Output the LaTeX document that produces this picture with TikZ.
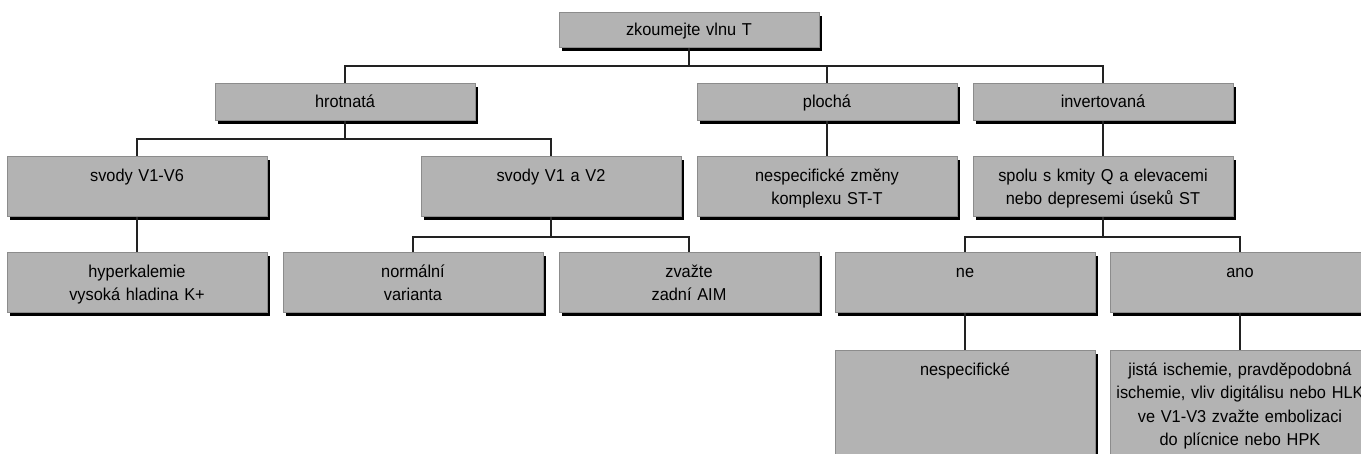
\documentclass[tikz,border=0pt]{standalone}
\usepackage{fontspec}
\usetikzlibrary{shadows}
\newfontfamily\boxfont{Liberation Sans}[FakeStretch=0.95]
\definecolor{boxfill}{RGB}{179,179,179}
\definecolor{boxline}{RGB}{140,140,140}
\definecolor{wire}{RGB}{34,34,34}
\tikzset{
  box/.style={draw=boxline, fill=boxfill, line width=0.8pt, inner sep=0pt,
    text width=260pt, align=center, anchor=north,
    font={\boxfont\fontsize{17.2}{23.5}\selectfont},
    drop shadow={shadow xshift=3pt, shadow yshift=-3.5pt, fill=black, opacity=1}},
  rootbox/.style={box, text height=23pt, text depth=12pt},
  kindbox/.style={box, text height=24pt, text depth=13pt},
  stdbox/.style={box, text height=25pt, text depth=35pt},
  leafbox/.style={box, text height=25pt, text depth=100pt},
  conn/.style={draw=wire, line width=1.2pt}
}
\begin{document}
\begin{tikzpicture}[x=1pt, y=-1pt]
\useasboundingbox (0,0) rectangle (1361,454);
\fill[white] (0,0) rectangle (1361,454);
\clip (0,0) rectangle (1361,454);

% bus levels
\coordinate (bus0) at (0,66);
\coordinate (bus1) at (0,139);
\coordinate (bus2) at (0,237);

% root
\node[rootbox] (top) at (689,12) {zkoumejte vlnu T};

% shape of the T wave
\node[kindbox] (hrot) at (345,83) {hrotnatá};
\node[kindbox] (plo) at (827,83) {plochá};
\node[kindbox] (inv) at (1103,83) {invertovaná};

% second level
\node[stdbox] (sv16) at (137,156) {svody V1-V6};
\node[stdbox] (sv12) at (551,156) {svody V1 a V2};
\node[stdbox] (nst) at (827,156) {nespecifické změny\\komplexu ST-T};
\node[stdbox] (spolu) at (1103,156) {spolu s kmity Q a elevacemi\\nebo depresemi úseků ST};

% third level
\node[stdbox] (hyper) at (137,252) {hyperkalemie\\vysoká hladina K+};
\node[stdbox] (norm) at (413,252) {normální\\varianta};
\node[stdbox] (zv) at (689,252) {zvažte\\zadní AIM};
\node[stdbox] (ne) at (965,252) {ne};
\node[stdbox] (ano) at (1240,252) {ano};

% conclusions
\node[leafbox] (nesp) at (965,350) {nespecifické};
\node[leafbox] (jista) at (1240,350) {jistá ischemie, pravděpodobná\\\mbox{ischemie, vliv digitálisu nebo HLK}\\ve V1-V3 zvažte embolizaci\\do plícnice nebo HPK};

% connectors
\draw[conn] (top.south) -- (top.south |- bus0);
\draw[conn] (hrot.north) -- (hrot.north |- bus0) -| (inv.north);
\draw[conn] (plo.north) -- (plo.north |- bus0);

\draw[conn] (hrot.south) -- (hrot.south |- bus1);
\draw[conn] (sv16.north) -- (sv16.north |- bus1) -| (sv12.north);
\draw[conn] (plo.south) -- (nst.north);
\draw[conn] (inv.south) -- (spolu.north);

\draw[conn] (sv16.south) -- (hyper.north);
\draw[conn] (sv12.south) -- (sv12.south |- bus2);
\draw[conn] (norm.north) -- (norm.north |- bus2) -| (zv.north);
\draw[conn] (spolu.south) -- (spolu.south |- bus2);
\draw[conn] (ne.north) -- (ne.north |- bus2) -| (ano.north);

\draw[conn] (ne.south) -- (nesp.north);
\draw[conn] (ano.south) -- (jista.north);
\end{tikzpicture}
\end{document}
